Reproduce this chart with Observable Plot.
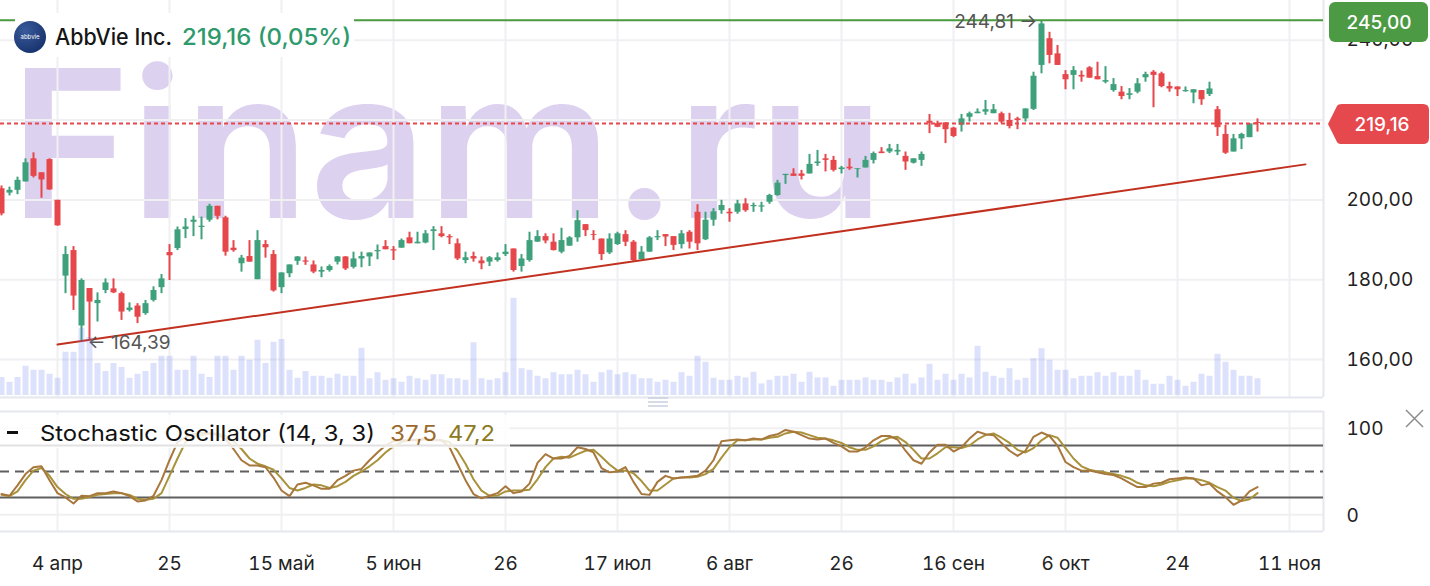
<!DOCTYPE html>
<html><head><meta charset="utf-8">
<script src="https://cdn.jsdelivr.net/npm/d3@7"></script>
<script src="https://cdn.jsdelivr.net/npm/@observablehq/plot@0.6"></script>
<style>
html,body{margin:0;padding:0;background:#fff;}
#wrap{position:relative;width:1430px;height:586px;overflow:hidden;font-family:Inter,"Noto Sans",sans-serif;}
#wrap > svg{position:absolute;left:0;}
</style></head><body><div id="wrap"></div>
<script>
// ---------- data (bar index 0 = 4 Apr) ----------
const firstIndex = -7;
const opens = [202.8,201.7,202.4,204.5,210.3,206.8,210.1,199.9,180.9,187.3,168.4,177.8,174.0,177.3,177.7,176.5,172.3,173.4,171.5,174.8,178.0,186.8,187.8,192.6,194.4,193.1,194.9,198.4,195.5,187.9,184.0,185.8,180.0,188.8,186.3,178.0,181.5,184.6,184.7,183.7,181.9,182.3,184.4,185.7,183.1,185.2,185.7,187.0,188.3,187.5,187.9,190.5,189.0,189.2,192.1,191.5,190.8,189.0,184.8,185.8,184.7,184.4,184.8,186.3,187.7,183.3,184.8,189.4,190.8,189.4,186.9,188.4,190.5,193.8,191.3,190.2,186.7,188.8,191.3,189.4,185.0,186.9,190.5,191.3,190.8,188.8,191.9,196.9,190.0,194.9,197.3,196.9,196.9,199.0,198.3,198.2,199.4,201.1,206.1,206.5,206.5,206.5,209.1,210.3,209.9,207.6,208.2,207.6,208.0,209.9,212.0,212.0,212.0,210.9,209.2,209.9,219.7,219.1,219.3,218.0,218.7,220.7,221.6,222.0,221.6,221.6,219.9,220.3,220.3,222.7,233.7,240.4,236.6,231.4,231.2,231.2,233.1,230.9,229.5,227.4,227.0,226.2,227.0,230.6,232.0,231.6,228.4,228.3,227.1,226.8,227.4,226.4,222.6,216.4,212.0,215.3,215.6,219.4];
const highs = [203.5,203.2,205.7,210.3,211.8,206.8,210.3,199.9,188.3,188.3,180.2,177.8,176.7,180.2,180.2,176.9,174.2,174.0,174.8,178.2,181.3,188.8,193.2,195.3,195.9,195.7,198.9,198.4,195.9,189.8,186.1,189.8,192.3,189.8,187.3,181.7,183.7,185.8,185.7,184.7,183.2,183.7,185.8,185.8,186.9,186.9,186.7,188.7,189.8,188.3,190.2,191.9,191.9,192.3,193.3,193.3,191.3,190.2,186.9,186.9,185.7,185.8,186.7,188.8,187.7,186.3,191.9,192.3,191.5,191.5,192.9,190.8,197.3,193.8,192.3,190.2,191.5,191.9,192.3,189.8,188.3,190.8,192.3,191.3,190.8,192.3,192.3,198.8,196.9,197.8,199.9,197.8,199.9,200.3,199.2,199.4,201.4,204.9,206.4,207.8,207.4,211.4,212.4,211.4,210.9,208.4,210.3,207.8,210.9,212.0,213.1,213.9,213.9,212.0,210.3,212.0,221.4,219.7,219.3,218.2,221.4,222.0,222.8,224.9,223.9,222.0,221.7,220.7,222.8,232.0,244.81,242.0,238.7,232.4,233.4,232.3,233.4,234.5,233.4,230.4,228.4,227.9,230.4,232.0,232.4,232.0,229.5,228.3,228.3,227.6,227.4,229.5,223.4,218.7,216.4,216.7,219.1,220.3];
const lows = [196.0,201.0,201.3,204.5,205.5,200.4,202.4,193.4,176.5,172.3,164.39,165.0,169.4,176.5,176.5,169.8,171.9,169.0,171.1,174.4,176.5,179.8,187.3,190.3,190.8,190.0,194.4,195.0,185.9,186.9,181.9,184.4,180.0,185.4,176.9,176.5,180.5,183.6,183.6,181.5,180.5,181.9,183.7,182.3,182.7,183.0,183.3,185.0,187.5,184.8,187.9,189.0,189.0,189.0,187.3,190.5,188.8,184.8,184.0,184.4,182.5,183.3,184.4,185.8,181.9,181.9,184.4,189.4,189.0,187.2,186.5,188.4,189.4,190.8,189.8,184.8,186.3,188.6,188.3,184.4,185.0,186.9,189.8,188.3,187.3,187.7,187.7,187.3,189.8,193.4,196.4,194.4,196.4,196.9,196.9,196.9,198.9,200.9,203.9,205.9,205.0,206.5,208.4,207.0,207.0,206.5,207.4,205.5,208.0,209.0,211.6,211.6,211.1,207.4,209.0,208.4,216.6,218.1,214.1,215.6,217.0,219.5,221.6,221.2,221.6,219.1,217.8,217.6,219.5,222.4,231.6,234.1,233.7,227.6,227.6,229.5,230.5,230.1,229.1,227.0,225.1,225.1,226.6,229.5,223.1,228.1,227.0,225.9,227.0,224.1,223.7,225.9,215.9,211.4,212.0,212.6,215.6,217.0];
const closes = [196.5,202.4,204.9,209.3,205.9,205.0,202.5,193.5,186.3,175.9,179.8,174.4,174.8,179.2,176.7,171.9,172.9,170.6,174.0,177.3,180.2,186.0,192.5,193.2,194.9,193.4,198.4,195.9,186.9,187.3,185.4,184.4,189.8,188.0,177.2,181.7,183.7,185.7,184.4,181.9,182.3,183.3,185.7,182.7,185.2,185.8,186.7,187.3,187.5,187.2,189.8,189.0,189.4,191.5,192.5,190.8,190.5,185.2,185.5,185.2,184.0,185.5,185.5,186.9,182.3,185.2,189.8,190.8,189.7,187.3,189.8,190.5,194.8,192.3,191.1,186.3,190.2,191.5,189.4,184.8,186.9,190.5,190.8,190.7,188.6,191.5,189.4,189.0,194.9,197.0,198.6,196.5,199.0,197.3,198.6,198.5,201.1,204.2,206.4,205.9,205.9,208.9,209.5,209.9,207.4,208.0,207.8,207.8,209.9,211.6,211.6,212.8,212.4,209.5,210.3,211.4,219.2,218.2,217.6,215.9,220.3,221.6,222.0,222.6,222.6,219.5,218.4,219.9,222.8,231.0,244.1,236.2,233.7,230.1,232.4,230.8,230.5,230.1,229.9,228.9,225.9,226.6,229.1,231.4,231.2,228.4,227.8,227.6,227.4,227.6,225.1,227.8,218.1,211.7,215.3,216.4,219.05,219.16];
const volumes = [4.5,3.3,4.5,7.3,6.3,6.3,5.3,4.3,10.8,10.8,16.8,14.5,8.0,6.0,8.0,7.0,4.3,5.3,6.0,8.0,9.8,9.8,6.3,6.3,9.8,5.3,4.5,9.8,9.8,6.3,9.8,8.8,13.8,8.0,13.3,14.0,6.3,4.3,6.0,4.8,4.8,4.3,5.3,4.8,4.8,11.8,4.2,5.7,3.8,4.2,3.3,4.8,4.2,3.8,5.2,5.2,4.2,4.2,3.8,13.2,4.2,3.8,4.2,5.7,24.3,6.7,6.3,4.8,4.2,5.7,5.2,5.2,6.3,5.2,3.3,5.7,6.3,5.2,5.7,5.2,4.2,4.2,3.3,3.8,3.3,5.7,4.8,9.8,8.3,4.3,3.8,3.8,4.8,4.4,5.8,2.9,3.8,4.8,4.8,5.3,3.3,5.8,4.4,4.4,2.3,3.8,3.8,3.8,4.4,3.8,3.8,3.3,4.4,5.3,2.9,4.4,7.8,3.8,5.3,3.8,5.3,4.4,12.3,5.8,4.8,4.3,6.7,3.8,4.3,9.2,11.7,8.8,6.3,6.3,4.2,4.8,4.8,5.7,4.8,5.7,4.8,4.8,6.3,3.8,2.8,2.8,4.8,3.8,2.3,3.3,5.3,4.8,10.3,8.3,6.3,4.8,4.8,4.2];
const stochK = [24,22,34,47,55,56,40,25,20,13,22,21.5,25,25,27,25,21.5,15.4,16.5,22,40,63,84,90,93,95,94,92,88,76,63,57,57,55,43,28,21.5,35,37,34,30,30,40,45,51,53,63,72,80,85,86,86,87,88,86,86,78,59,40,24,19,22,25,33,25,27,36,60,70,65,65,68,78,76,72,54,49,50,55,38,24,23,38,45,42,43,44,45,51,63,85,86,87,86,88,87,91,93,98,96,92,88,87,88,83,79,73,73,78,86,91,91,87,74,63,59,72,81,81,73,78,88,96,93,92,83,74,68,74,90,95,91,80,61,55,51,51,49,47,46,42,37,32,32,36,37,41,42,43,42,34,36,27,20.4,11.5,16.5,27,32];
const stochD = [23,21.5,27,40,51,54,45,32,24,18.5,18.5,20.4,23,24,25,25,23,18.5,17.3,18.5,25,45,65,84,90,92,94,94,91,85,76,65,59,56,52,42,31,28,31,35,34,31,33,38,45,50,56,63,72,79,84,86,86,87,87,86,84,74,59,41,28,22,22,27,28,28,29,41,55,65,67,66,70,74,75,67,58,51,51,48,39,28,28,35,42,43,43,44,47,53,66,78,86,86,87,87,89,90,94,96,95,92,89,88,86,83,78,75,75,79,85,89,90,84,75,65,65,71,78,78,77,80,87,92,94,89,83,75,72,77,86,92,89,77,65,56,52,50,49,47,45,42,37,34,33,35,38,40,42,42,40,37,32,28,19.6,16,18,25];
const xTickIndex = [0,14,28,42,56,70,84,98,112,126,140,154];
const xTickLabels = ["4 апр","25","15 май","5 июн","26","17 июл","6 авг","26","16 сен","6 окт","24","11 ноя"];
const priceTicks = [160,180,200,220,240];
const stochTicks = [0,100];
const stochLevels = [20,80];
const stochMid = [50];
const trendIndex = [0,156];
const trendPrice = [163.76,208.9];
const lastPrice = 219.16;
const levelPrice = 245.00;
const highLabel = {i:123, p:244.81, t:"244,81 →"};
const lowLabel = {i:3, p:164.39, t:"← 164,39"};

// ---------- build ----------
const GREEN = "#3fa07c", RED = "#e5474b";
const bars = opens.map((o,k)=>({i:firstIndex+k,o,h:highs[k],l:lows[k],c:closes[k],v:volumes[k],K:stochK[k],D:stochD[k]}));
bars.forEach(d=>d.col = d.c>=d.o?GREEN:RED);
const trend = trendIndex.map((i,k)=>({i,p:trendPrice[k]}));
const xDomain = [-7.125,158.25];
const W = 1430, MR = 107;
const fmt2 = d => d.toFixed(2).replace(".",",");
const labelMap = Object.fromEntries(xTickIndex.map((d,k)=>[d,xTickLabels[k]]));
const wrap = document.getElementById("wrap");
const baseStyle = {background:"transparent",fontFamily:"Inter, 'Noto Sans', sans-serif",fontSize:"19px",color:"#222",overflow:"visible"};

// watermark
const wm = d3.create("svg").attr("width",W).attr("height",400).style("top","0px");
wm.append("text").attr("x",10).attr("y",218).attr("textLength",874).attr("lengthAdjust","spacingAndGlyphs")
  .attr("font-family","Inter").attr("font-weight",600).attr("font-size",206).attr("fill","#ddd1f0").text("Finam.ru");
wrap.appendChild(wm.node());

const pricePlot = Plot.plot({
  width:W,height:400,marginLeft:0,marginRight:MR,marginTop:0,marginBottom:3,
  style:baseStyle,
  x:{domain:xDomain,axis:null},
  y:{domain:[150.48,249.97],axis:null},
  color:{type:"identity"},
  marks:[
    Plot.ruleX(xTickIndex,{stroke:"#f0f0f3",strokeWidth:2}),
    Plot.ruleY(priceTicks,{stroke:"#f0f0f3",strokeWidth:2}),
    Plot.ruleY([150.48],{stroke:"#e6e7ee",strokeWidth:2}),
    Plot.ruleX([158.25],{stroke:"#e6e7ee",strokeWidth:2}),
    Plot.ruleX(bars,{x:"i",y1:"l",y2:"h",stroke:"col",strokeWidth:2}),
    Plot.ruleX(bars,{x:"i",y1:"o",y2:"c",stroke:"col",strokeWidth:6}),
    Plot.line(trend,{x:"i",y:"p",stroke:"#c2311f",strokeWidth:2}),
    Plot.ruleY([lastPrice],{stroke:RED,strokeWidth:2,strokeDasharray:"4,3"}),
    Plot.ruleY([levelPrice],{stroke:"#4a9a3f",strokeWidth:2}),
    Plot.axisY(priceTicks,{anchor:"right",label:null,tickSize:0,tickPadding:23,tickFormat:fmt2,fontSize:19}),
    Plot.text([highLabel],{x:"i",y:"p",text:"t",textAnchor:"end",dx:-4,dy:1,fill:"#555",fontSize:19}),
    Plot.text([lowLabel],{x:"i",y:"p",text:"t",textAnchor:"start",dx:6,dy:1,fill:"#555",fontSize:19})
  ]
});
pricePlot.style.top = "0px";
wrap.appendChild(pricePlot);

const volPlot = Plot.plot({
  width:W,height:400,marginLeft:0,marginRight:MR,marginTop:0,marginBottom:5,
  style:baseStyle,
  x:{domain:xDomain,axis:null},
  y:{domain:[0,98.75],axis:null},
  marks:[
    Plot.ruleX(bars,{x:"i",y1:0,y2:"v",stroke:"rgb(100,125,240)",strokeOpacity:0.22,strokeWidth:6})
  ]
});
volPlot.style.top = "0px";
wrap.appendChild(volPlot);

const stochPlot = Plot.plot({
  width:W,height:181,marginLeft:0,marginRight:MR,marginTop:6,marginBottom:55,
  style:baseStyle,
  x:{domain:xDomain,axis:null},
  y:{domain:[-19.3,119.3],axis:null},
  marks:[
    Plot.ruleX(xTickIndex,{stroke:"#f0f0f3",strokeWidth:2}),
    Plot.ruleY(stochTicks,{stroke:"#f0f0f3",strokeWidth:2}),
    Plot.ruleY([-19.3,119.3],{stroke:"#e6e7ee",strokeWidth:2}),
    Plot.ruleX([158.25],{stroke:"#e6e7ee",strokeWidth:2}),
    Plot.ruleY(stochLevels,{stroke:"#5f5f5f",strokeWidth:2}),
    Plot.ruleY(stochMid,{stroke:"#5f5f5f",strokeWidth:2,strokeDasharray:"9,6"}),
    Plot.line(bars,{x:"i",y:"D",stroke:"#a8923a",strokeWidth:2}),
    Plot.line(bars,{x:"i",y:"K",stroke:"#a8773c",strokeWidth:2}),
    Plot.axisY(stochTicks,{anchor:"right",label:null,tickSize:0,tickPadding:23,tickFormat:d=>String(d),fontSize:19,dy:1}),
    Plot.axisX(xTickIndex,{anchor:"bottom",label:null,tickSize:0,tickPadding:25,tickFormat:d=>labelMap[d],fontSize:19})
  ]
});
stochPlot.style.top = "405px";
wrap.appendChild(stochPlot);

// overlay: header, legend, badges
const ov = d3.create("svg").attr("width",W).attr("height",586).style("top","0px")
  .attr("font-family","Inter, 'Noto Sans', sans-serif");
// header
ov.append("rect").attr("x",15).attr("y",13).attr("width",339).attr("height",44).attr("rx",4).attr("fill","#fff");
const grad = ov.append("defs").append("radialGradient").attr("id","lg").attr("cx","35%").attr("cy","30%").attr("r","75%");
grad.append("stop").attr("offset","0%").attr("stop-color","#3a5a9a");
grad.append("stop").attr("offset","100%").attr("stop-color","#17336e");
ov.append("circle").attr("cx",30).attr("cy",37).attr("r",16).attr("fill","url(#lg)");
ov.append("text").attr("x",30).attr("y",39).attr("text-anchor","middle").attr("font-size",6).attr("fill","#fff").text("abbvie");
ov.append("text").attr("x",55).attr("y",45).attr("font-size",22.5).attr("font-weight",500).attr("fill","#151515")
  .attr("textLength",117).attr("lengthAdjust","spacingAndGlyphs").text("AbbVie Inc.");
ov.append("text").attr("x",182).attr("y",45).attr("font-size",22.5).attr("font-weight",500).attr("fill","#2e9a6c")
  .attr("textLength",169).attr("lengthAdjust","spacingAndGlyphs").text("219,16 (0,05%)");
// stochastic legend
ov.append("rect").attr("x",0).attr("y",415).attr("width",510).attr("height",33).attr("fill","#fff").attr("fill-opacity",0.82);
ov.append("rect").attr("x",7).attr("y",431).attr("width",11).attr("height",3).attr("fill","#111");
ov.append("text").attr("x",40).attr("y",441).attr("font-size",22).attr("fill","#111")
  .attr("textLength",335).attr("lengthAdjust","spacingAndGlyphs").text("Stochastic Oscillator (14, 3, 3)");
ov.append("text").attr("x",390).attr("y",441).attr("font-size",22).attr("fill","#9b6a2c")
  .attr("textLength",47).attr("lengthAdjust","spacingAndGlyphs").text("37,5");
ov.append("text").attr("x",448).attr("y",441).attr("font-size",22).attr("fill","#8c7a1e")
  .attr("textLength",47).attr("lengthAdjust","spacingAndGlyphs").text("47,2");
// badges
ov.append("rect").attr("x",1329).attr("y",2).attr("width",99).attr("height",40).attr("rx",6).attr("fill","#4c9a44");
ov.append("text").attr("x",1379).attr("y",29).attr("text-anchor","middle").attr("font-size",19).attr("font-weight",500).attr("fill","#fff").text(fmt2(levelPrice));
ov.append("path").attr("d","M1328,124 L1337,106 Q1338,104 1342,104 L1423,104 Q1429,104 1429,110 L1429,138 Q1429,144 1423,144 L1342,144 Q1338,144 1337,142 Z").attr("fill","#e5484d");
ov.append("text").attr("x",1382).attr("y",131).attr("text-anchor","middle").attr("font-size",19).attr("font-weight",500).attr("fill","#fff").text(fmt2(lastPrice));
// close icon and pane handle
ov.append("path").attr("d","M1406,410 L1423,427 M1423,410 L1406,427").attr("stroke","#8c8c8c").attr("stroke-width",1.5);
[398,402,406].forEach(y=>ov.append("line").attr("x1",648).attr("x2",668).attr("y1",y).attr("y2",y).attr("stroke","#c9d0dc").attr("stroke-width",1.5));
wrap.appendChild(ov.node());
</script>
</body></html>
